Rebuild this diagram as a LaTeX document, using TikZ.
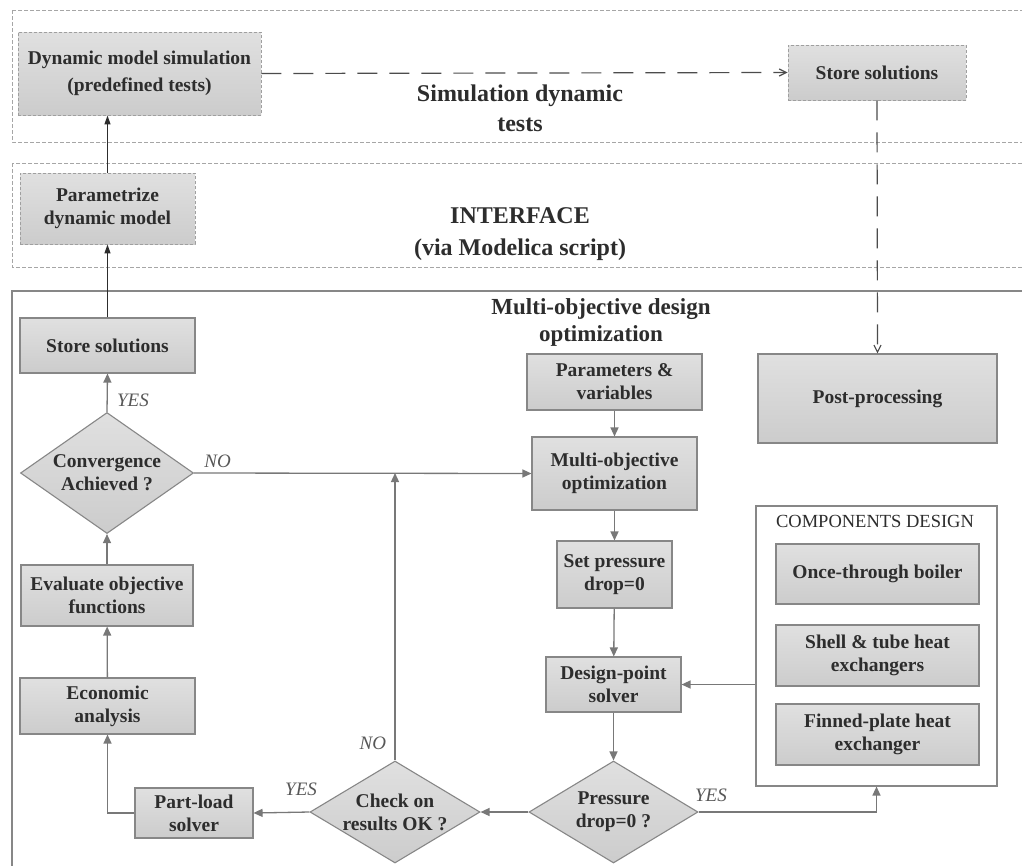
\documentclass[tikz,border=0pt]{standalone}
\usepackage{fontspec}
\setmainfont{Liberation Serif}
\usepackage{xcolor}
\usetikzlibrary{arrows.meta,positioning,shapes.geometric}
\definecolor{boxtop}{RGB}{224,224,224}
\definecolor{boxbot}{RGB}{204,204,204}
\definecolor{edge}{RGB}{135,135,135}
\definecolor{wire}{RGB}{120,120,120}
\definecolor{ink}{RGB}{45,45,45}

\begin{document}
\begin{tikzpicture}[x=1pt,y=-1pt,
  box/.style={draw=edge,line width=1.1pt,top color=boxtop,bottom color=boxbot,align=center,
    text=ink,font=\fontsize{19.5}{23}\selectfont\bfseries,inner sep=2pt},
  dbox/.style={box,draw=gray!75,line width=0.9pt,dash pattern=on 3pt off 2pt},
  dec/.style={box,diamond,inner sep=-6pt},
  region/.style={draw=gray!70,line width=0.9pt,dash pattern=on 4pt off 2pt},
  title/.style={align=center,text=ink,font=\fontsize{24}{30}\selectfont\bfseries},
  lbl/.style={text=ink!80,font=\fontsize{19}{22}\selectfont\itshape},
  arr/.style={draw=wire,line width=1.3pt,-{Triangle[length=9pt,width=8pt]}},
  arrdark/.style={draw=ink,line width=1.2pt,-{Triangle[length=9pt,width=6pt]}},
  longdash/.style={draw=ink!85,line width=1.2pt,dash pattern=on 20pt off 12pt,
    -{Straight Barb[length=7pt,width=7pt]}}]
\useasboundingbox (0,0) rectangle (1022,865);
\clip (0,0) rectangle (1022,865);
\fill[white] (0,0) rectangle (1022,865);

% regions
\draw[region] (12,10) rectangle (1040,142);
\draw[region] (12,163) rectangle (1040,267);
\draw[draw=edge,line width=1.6pt] (1040,291) -- (12,291) -- (12,890);

% upper part
\node[dbox,minimum width=243pt,minimum height=83pt,font=\fontsize{19.5}{27}\selectfont\bfseries] (dyn) at (139.5,73.5) {Dynamic model simulation\\(predefined tests)};
\node[dbox,minimum width=178pt,minimum height=55pt] (storetop) at (877,72.5) {Store solutions};
\node[title] (simtitle) at (520,108) {Simulation dynamic\\tests};
\node[dbox,minimum width=175pt,minimum height=71pt] (param) at (107.5,208.5) {Parametrize\\dynamic model};
\node[title,font=\fontsize{24}{32}\selectfont\bfseries] (iftitle) at (520,234) {INTERFACE\\(via Modelica script)};

% optimization part
\node[title,font=\fontsize{23}{27}\selectfont\bfseries] (motitle) at (601,322) {Multi-objective design\\optimization};
\node[box,minimum width=175pt,minimum height=55pt] (storeleft) at (107.5,345.5) {Store solutions};
\node[dec,aspect=1.43,minimum width=173pt,minimum height=121pt] (conv) at (107,473) {Convergence\\Achieved ?};
\node[box,minimum width=172pt,minimum height=61pt] (evalfn) at (107,595.5) {Evaluate objective\\functions};
\node[box,minimum width=175pt,minimum height=56pt] (econ) at (107.5,706) {Economic\\analysis};
\node[box,minimum width=118pt,minimum height=50pt] (partload) at (194,813) {Part-load\\solver};
\node[dec,aspect=1.67,minimum width=170pt,minimum height=102pt] (check) at (395,812) {Check on\\results OK ?};
\node[dec,aspect=1.67,minimum width=169pt,minimum height=102pt] (pdrop) at (613.5,812) {Pressure\\drop=0 ?};
\node[box,minimum width=135pt,minimum height=55pt] (dps) at (613.5,684.5) {Design-point\\solver};
\node[box,minimum width=115pt,minimum height=67pt] (setp) at (614.5,574.5) {Set pressure\\drop=0};
\node[box,minimum width=165pt,minimum height=73pt] (mo) at (614.5,473.5) {Multi-objective\\optimization};
\node[box,minimum width=175pt,minimum height=56pt] (params) at (614.5,382) {Parameters \&\\variables};
\node[box,minimum width=239pt,minimum height=89pt] (post) at (877.5,398.5) {Post-processing};

% components
\node[draw=edge,line width=1.1pt,minimum width=241pt,minimum height=280pt] (comp) at (876.5,646) {};
\node[text=ink,font=\fontsize{18.5}{22}\selectfont] (comptitle) at (875,521) {COMPONENTS DESIGN};
\node[box,minimum width=203pt,minimum height=60pt] (boiler) at (877.5,574) {Once-through boiler};
\node[box,minimum width=203pt,minimum height=61pt] (shell) at (877.5,655.5) {Shell \& tube heat\\exchangers};
\node[box,minimum width=203pt,minimum height=61pt] (finned) at (877.5,734.5) {Finned-plate heat\\exchanger};

% connectors
\draw[longdash] (dyn.east) -- (storetop.west);
\draw[longdash] (storetop.south) -- (post.north);
\draw[arrdark] (param.north) -- (param.north |- dyn.south);
\draw[arrdark] (storeleft.north) -- (param.south);
\draw[arr] (conv.north) -- node[lbl,right=6pt,pos=0.3]{YES} (storeleft.south);
\draw[arr] (evalfn) -- (conv);
\draw[arr] (econ) -- (evalfn);
\draw[arr] (partload.west) -| (econ.south);
\draw[arr] (check.west) -- node[lbl,above=12pt,pos=0.15]{YES} (partload.east);
\draw[arr] (pdrop.west) -- (check.east);
\coordinate (join) at (check.north |- conv.east);
\draw[arr] (check.north) -- node[lbl,left=5pt,pos=0.06]{NO} (join);
\draw[arr] (conv.east) -- node[lbl,above=1pt,pos=0.07]{NO} (mo.west);
\draw[arr] (params) -- (mo);
\draw[arr] (mo) -- (setp);
\draw[arr] (setp) -- (dps);
\draw[arr] (dps) -- (pdrop);
\draw[arr] (comp.west |- dps) -- (dps.east);
\draw[arr] (pdrop.east) -- node[lbl,above=6pt,pos=0.07]{YES} (pdrop.east -| comp.south) -- (comp.south);
\end{tikzpicture}
\end{document}
